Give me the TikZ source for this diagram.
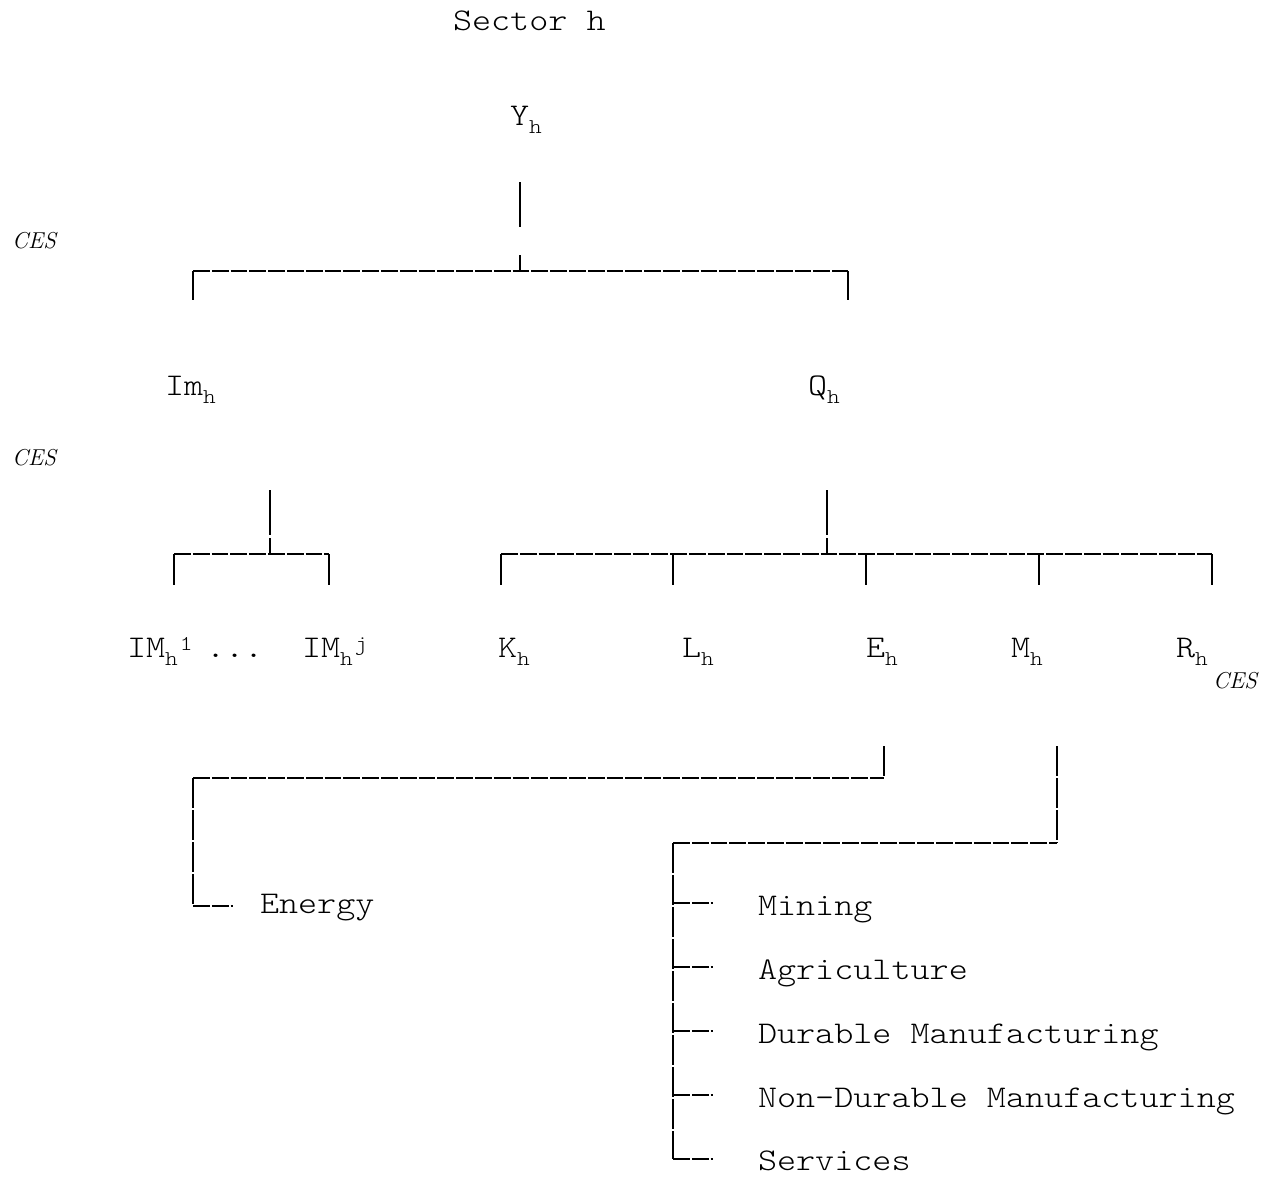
\documentclass[tikz,border=0pt]{standalone}
\usepackage{fontspec}
\setmonofont{Latin Modern Mono Light}[FakeStretch=1.15]
\usepackage{graphicx}
\newcommand{\sbh}[1]{\raisebox{-4pt}{\fontsize{10.5}{10.5}\selectfont #1}}
\newcommand{\spx}[1]{\raisebox{3.2pt}{\fontsize{10.5}{10.5}\selectfont\hspace{1pt}#1}}
\begin{document}
\begin{tikzpicture}[x=0.5pt,y=-0.5pt,
  lbl/.style={anchor=base west,inner sep=0pt,outer sep=0pt,font=\ttfamily\fontsize{15.8}{18}\selectfont},
  ces/.style={anchor=base west,inner sep=0pt,outer sep=0pt,font=\itshape\fontsize{11.5}{12}\selectfont},
  hline/.style={line width=0.65pt,dash pattern=on 8.4pt off 1pt},
  vline/.style={line width=0.65pt},
  vdash/.style={line width=0.65pt,dash pattern=on 15pt off 1pt}]
\useasboundingbox (0,0) rectangle (1274,1178);

% ---- labels ----
\node[lbl] (title) at (453,30) {Sector h};
\node[lbl] (Y) at (510,125) {Y\sbh{h}};
\node[ces] (ces1) at (12,248) {CES};
\node[lbl] (Im) at (165,395) {Im\sbh{h}};
\node[lbl] (Q) at (808,395) {Q\sbh{h}};
\node[ces] (ces2) at (12,465) {CES};
\node[lbl] (IMa) at (127,657) {IM\sbh{h}\spx{1}};
\node[lbl] (dots) at (206,657) {...};
\node[lbl] (IMj) at (302,657) {IM\sbh{h}\spx{j}};
\node[lbl] (K) at (498,657) {K\sbh{h}};
\node[lbl] (L) at (682,657) {L\sbh{h}};
\node[lbl] (E) at (866,657) {E\sbh{h}};
\node[lbl] (M) at (1011,657) {M\sbh{h}};
\node[lbl] (R) at (1176,657) {R\sbh{h}};
\node[ces] (ces3) at (1213,688) {CES};
\node[lbl] (energy) at (260,913) {Energy};
\node[lbl] (mining) at (758,915) {Mining};
\node[lbl] (agri) at (758,979) {Agriculture};
\node[lbl] (durable) at (758,1043) {Durable Manufacturing};
\node[lbl] (nondur) at (758,1107) {Non-Durable Manufacturing};
\node[lbl] (serv) at (758,1170) {Services};

% ---- connector coordinates ----
\coordinate (ya) at (520,182); \coordinate (yb) at (520,227);
\coordinate (yc) at (520,255); \coordinate (yd) at (520,271);
\coordinate (tl) at (193,271); \coordinate (tr) at (848,271);
\coordinate (tlb) at (193,300); \coordinate (trb) at (848,300);
\coordinate (ia) at (270,490); \coordinate (ib) at (270,535);
\coordinate (ic) at (270,538); \coordinate (id) at (270,554);
\coordinate (il) at (174,554); \coordinate (ir) at (329,554);
\coordinate (ilb) at (174,585); \coordinate (irb) at (329,585);
\coordinate (qa) at (827,490); \coordinate (qb) at (827,535);
\coordinate (qc) at (827,538); \coordinate (qd) at (827,554);
\coordinate (kt) at (501,554); \coordinate (kb) at (501,585);
\coordinate (lt) at (673,554); \coordinate (lb) at (673,585);
\coordinate (et) at (866,554); \coordinate (eb) at (866,585);
\coordinate (mt) at (1039,554); \coordinate (mb) at (1039,585);
\coordinate (rt) at (1212,554); \coordinate (rb) at (1212,585);
\coordinate (ea) at (884,746); \coordinate (ec) at (884,778);
\coordinate (el) at (193,778); \coordinate (ebot) at (193,906);
\coordinate (etip) at (233,906);
\coordinate (ma) at (1057,746); \coordinate (mc) at (1057,843);
\coordinate (ml) at (673,843); \coordinate (mbot) at (673,1159);
\coordinate (b1) at (673,903);  \coordinate (t1) at (713,903);
\coordinate (b2) at (673,967);  \coordinate (t2) at (713,967);
\coordinate (b3) at (673,1031); \coordinate (t3) at (713,1031);
\coordinate (b4) at (673,1095); \coordinate (t4) at (713,1095);
\coordinate (b5) at (673,1159); \coordinate (t5) at (713,1159);

% ---- connectors ----
\draw[vline] (ya) -- (yb);
\draw[vline] (yc) -- (yd);
\draw[hline] (tl) -- (tr);
\draw[vline] (tl) -- (tlb);
\draw[vline] (tr) -- (trb);

\draw[vline] (ia) -- (ib);
\draw[vline] (ic) -- (id);
\draw[hline] (il) -- (ir);
\draw[vline] (il) -- (ilb);
\draw[vline] (ir) -- (irb);

\draw[vline] (qa) -- (qb);
\draw[vline] (qc) -- (qd);
\draw[hline] (kt) -- (rt);
\foreach \a/\b in {kt/kb,lt/lb,et/eb,mt/mb,rt/rb}
  \draw[vline] (\a) -- (\b);

\draw[vdash] (ea) -- (ec);
\draw[hline] (el) -- (ec);
\draw[vdash] (el) -- (ebot);
\draw[hline] (ebot) -- (etip);

\draw[vdash] (ma) -- (mc);
\draw[hline] (ml) -- (mc);
\draw[vdash] (ml) -- (mbot);
\foreach \a/\b in {b1/t1,b2/t2,b3/t3,b4/t4,b5/t5}
  \draw[hline] (\a) -- (\b);
\end{tikzpicture}
\end{document}
